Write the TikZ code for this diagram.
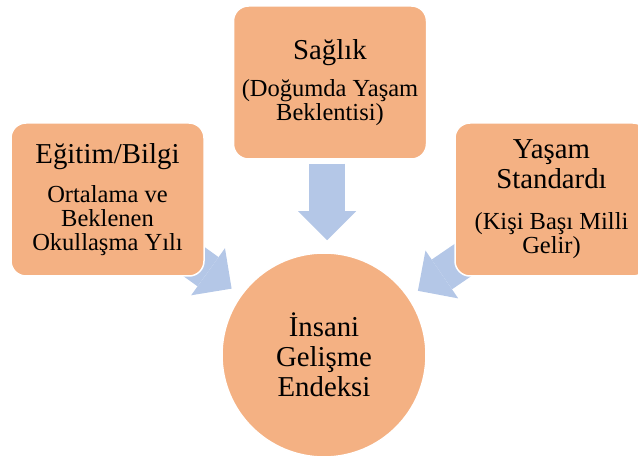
\documentclass[tikz,border=0pt]{standalone}
\usepackage{fontspec}
\setmainfont{Liberation Serif}
\usepackage{tikz}
\usetikzlibrary{arrows.meta,backgrounds}
\definecolor{boxorange}{HTML}{F4B183}
\definecolor{arrowblue}{HTML}{B4C7E7}
\def\titlesize{\fontsize{28.8}{28.5}\selectfont}
\def\subsize{\fontsize{24.5}{24}\selectfont}
\tikzset{
  infobox/.style={draw=white, line width=1.5pt, fill=boxorange, rounded corners=15pt,
    minimum width=193pt, minimum height=153pt, text width=187pt, align=flush center, inner sep=0pt,
    font=\subsize},
  hdicircle/.style={circle, draw=white, line width=1.5pt, fill=boxorange, minimum size=204pt,
    inner sep=0pt, align=center, font=\fontsize{28.8}{30}\selectfont},
  bigarrow/.style={draw=arrowblue, line width=36pt, -{Triangle[width=58pt,length=29pt,line width=0pt]}}
}

\begin{document}
\begin{tikzpicture}[x=1pt,y=-1pt]
		%%%%% START %%%%%
		\useasboundingbox (0,0) rectangle (638,457);
		\clip (0,0) rectangle (638,457);
		
		\node[infobox] (egitim) at (107.5,199.5) {\titlesize Eğitim/Bilgi\\[15pt]\subsize Ortalama ve\\Beklenen\\Okullaşma Yılı};
		\node[infobox] (saglik) at (330,82.5) {\titlesize Sağlık\\[12.5pt]\subsize (Doğumda Yaşam\\Beklentisi)};
		\node[infobox] (yasam) at (551.5,199.5) {\titlesize Yaşam\\[1.3pt]Standardı\\[17.5pt]\subsize (Kişi Başı Milli\\Gelir)};
		
		\node[hdicircle] (hdi) at (324,355) {İnsani\\Gelişme\\Endeksi};
		
		\coordinate (saglikout) at ([xshift=-3pt,yshift=-4pt]saglik.south);
		
		\begin{pgfonlayer}{background}
		\draw[bigarrow, shorten >=11pt] (egitim.center) -- (hdi);
		\draw[bigarrow, shorten >=11pt] (yasam.center) -- (hdi);
		\draw[bigarrow, shorten >=12pt] (saglikout) -- (saglikout |- hdi.north);
		\end{pgfonlayer}
		%%%%% END %%%%%
\end{tikzpicture}
\end{document}
